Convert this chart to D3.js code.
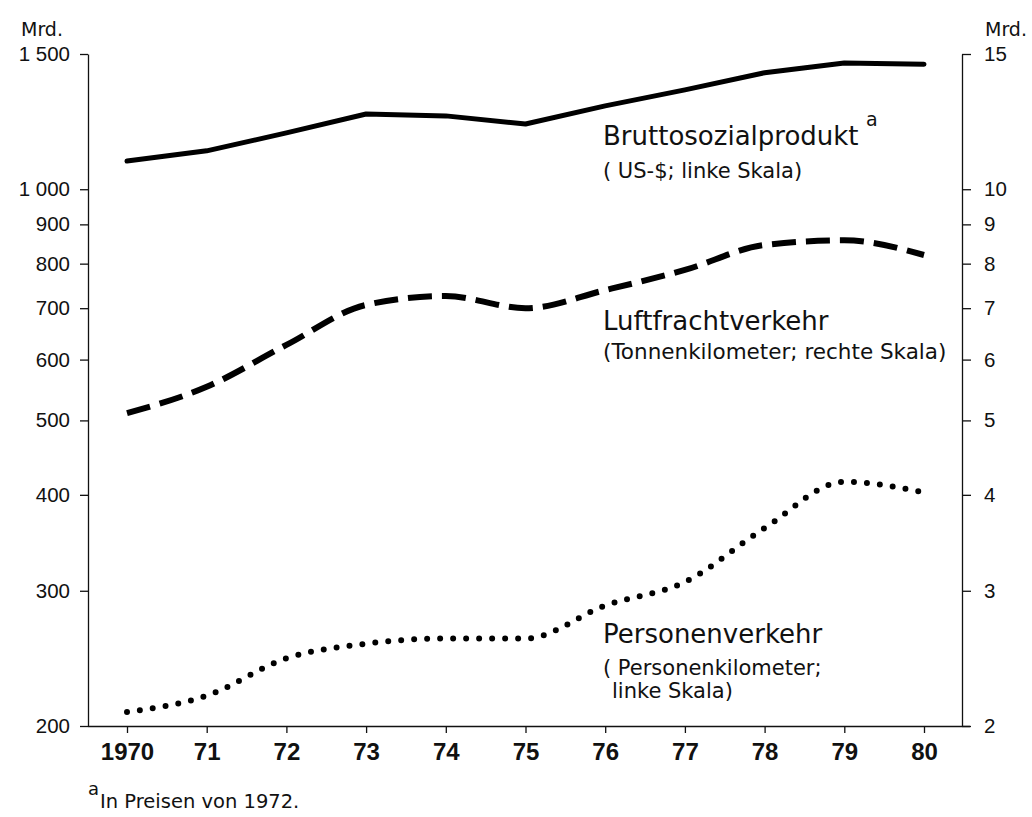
<!DOCTYPE html>
<html>
<head>
<meta charset="utf-8">
<script src="https://cdn.jsdelivr.net/npm/d3@7"></script>
<style>
  body { margin: 0; background: #fff; }
  svg { font-family: "DejaVu Sans", sans-serif; }
  .tick text { fill: #111; }
</style>
</head>
<body>
<svg id="chart" width="1032" height="817"></svg>
<script>
// years and series
var years = [1970, 1971, 1972, 1973, 1974, 1975, 1976, 1977, 1978, 1979, 1980];
var yearLabels = ["1970", "71", "72", "73", "74", "75", "76", "77", "78", "79", "80"];
var gnp = [1088, 1122, 1184, 1253, 1246, 1216, 1284, 1347, 1418, 1460, 1455];      // left scale
var freight = [5.11, 5.53, 6.27, 7.07, 7.26, 7.00, 7.39, 7.85, 8.46, 8.58, 8.21];  // right scale
var passenger = [208.6, 219, 245, 256, 260, 260, 287, 308, 362, 416, 403];        // left scale
var leftTicks = [200, 300, 400, 500, 600, 700, 800, 900, 1000, 1500];
var rightTicks = [2, 3, 4, 5, 6, 7, 8, 9, 10, 15];

var svg = d3.select("#chart");
var plotLeft = 88, plotRight = 962, plotTop = 54, plotBottom = 726;

var xScale = d3.scaleLinear().domain([1970, 1980]).range([127, 924]);
var yLeft = d3.scaleLog().domain([200, 1500]).range([plotBottom, plotTop]);
var yRight = d3.scaleLog().domain([2, 15]).range([plotBottom, plotTop]);

var fmtLeft = function(d) { return d >= 1000 ? String(d).replace(/(\d)(\d{3})$/, "$1 $2") : d; };

// left axis
var gl = svg.append("g")
    .attr("transform", "translate(" + plotLeft + ",0)")
    .call(d3.axisLeft(yLeft).tickValues(leftTicks).tickFormat(fmtLeft).tickSize(8).tickPadding(10).tickSizeOuter(0));
gl.selectAll("text").style("font-size", "20.5px");

// right axis
var gr = svg.append("g")
    .attr("transform", "translate(" + plotRight + ",0)")
    .call(d3.axisRight(yRight).tickValues(rightTicks).tickFormat(d3.format("d")).tickSize(9).tickPadding(13).tickSizeOuter(0));
gr.selectAll("text").style("font-size", "20.5px");

// x axis
var gx = svg.append("g")
    .attr("transform", "translate(0," + plotBottom + ")")
    .call(d3.axisBottom(xScale).tickValues(years).tickFormat(function(d, i) { return yearLabels[i]; })
        .tickSize(7).tickPadding(10).tickSizeOuter(0));
gx.select(".domain").attr("d", "M" + plotLeft + ",0.5H" + (plotRight + 8));
gx.selectAll("text").style("font-size", "24px").style("font-weight", "bold");

svg.selectAll(".domain, .tick line").attr("stroke", "#111").attr("stroke-width", 1.3);

// lines
var lineLeft = d3.line()
    .x(function(d, i) { return xScale(years[i]); })
    .y(function(d) { return yLeft(d); });
var lineRight = d3.line()
    .x(function(d, i) { return xScale(years[i]); })
    .y(function(d) { return yRight(d); })
    .curve(d3.curveMonotoneX);
var lineLeftSmooth = d3.line()
    .x(function(d, i) { return xScale(years[i]); })
    .y(function(d) { return yLeft(d); })
    .curve(d3.curveMonotoneX);

svg.append("path").datum(gnp)
    .attr("d", lineLeft)
    .attr("fill", "none").attr("stroke", "#000")
    .attr("stroke-width", 5).attr("stroke-linecap", "round").attr("stroke-linejoin", "round");

svg.append("path").datum(freight)
    .attr("d", lineRight)
    .attr("fill", "none").attr("stroke", "#000")
    .attr("stroke-width", 6).attr("stroke-dasharray", "24 10");

svg.append("path").datum(passenger)
    .attr("d", lineLeftSmooth)
    .attr("fill", "none").attr("stroke", "#000")
    .attr("stroke-width", 6).attr("stroke-linecap", "round").attr("stroke-dasharray", "0 13");

// labels
function label(x, y, txt, size) {
    return svg.append("text").attr("x", x).attr("y", y)
        .style("font-size", size + "px").attr("fill", "#111").text(txt);
}
label(21, 36, "Mrd.", 19);
label(985, 36, "Mrd.", 19);

label(603, 145, "Bruttosozialprodukt", 26);
label(866, 126, "a", 19);
label(603, 178, "( US-$;  linke Skala)", 21);

label(603, 330, "Luftfrachtverkehr", 26);
label(603, 359, "(Tonnenkilometer; rechte Skala)", 21.5);

label(603, 643, "Personenverkehr", 26);
label(603, 675, "( Personenkilometer;", 21);
label(612, 698, "linke Skala)", 21);

// footnote
label(88, 795, "a", 18);
label(100, 808, "In Preisen von 1972.", 19.5);
</script>
</body>
</html>
